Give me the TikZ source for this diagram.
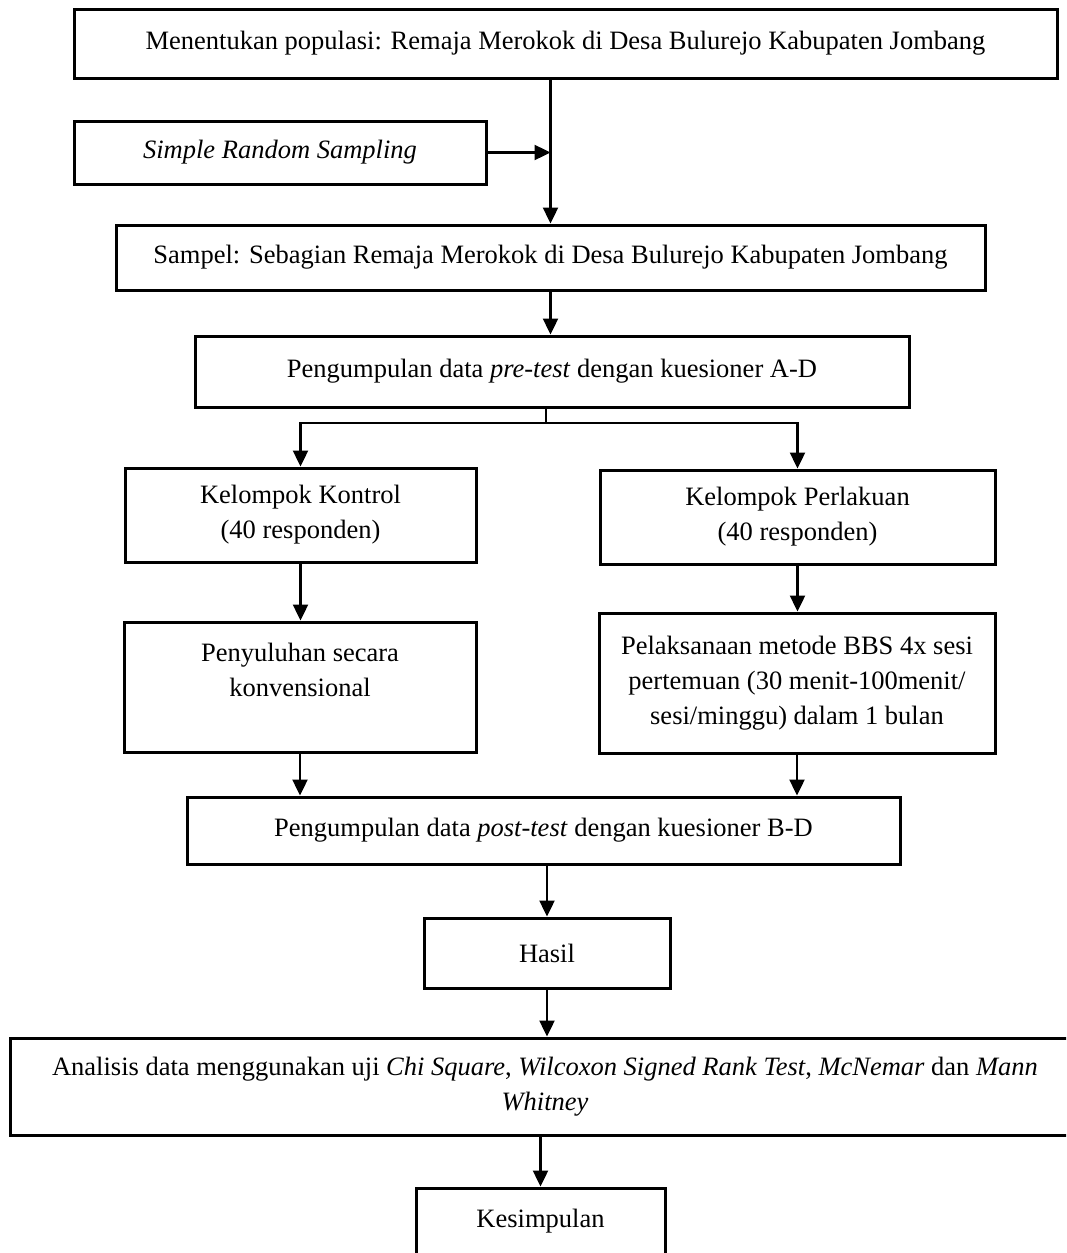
\documentclass[tikz,border=0pt]{standalone}
\usepackage{fontspec}
\setmainfont{Liberation Serif}
\usetikzlibrary{arrows.meta}
\begin{document}
\begin{tikzpicture}[x=1pt,y=-1pt,
  flowbox/.style={draw, line width=3pt, inner sep=0pt, align=center,
    font=\fontsize{26.5}{35}\selectfont},
  link/.style={line width=2.4pt, -{Triangle[length=16pt,width=15pt]}},
  plain/.style={line width=2.4pt}]
\useasboundingbox (0,0) rectangle (1066,1253);
\clip (0,0) rectangle (1066,1253);
\fill[white] (0,0) rectangle (1066,1253);

% boxes of the flow
\node[flowbox, minimum width=983, minimum height=69] (pop) at (565.5,43.5)
  {Menentukan populasi: Remaja Merokok di Desa Bulurejo Kabupaten Jombang};
\node[flowbox, minimum width=412, minimum height=63] (srs) at (280,152.5)
  {\textit{Simple Random Sampling}};
\node[flowbox, minimum width=869, minimum height=65] (smp) at (550.5,257.5)
  {Sampel: Sebagian Remaja Merokok di Desa Bulurejo Kabupaten Jombang};
\node[flowbox, minimum width=714, minimum height=71] (pre) at (552,371.5)
  {Pengumpulan data \textit{pre-test} dengan kuesioner A-D};
\node[flowbox, minimum width=351, minimum height=94] (kon) at (300.5,515)
  {Kelompok Kontrol\\(40 responden)};
\node[flowbox, minimum width=395, minimum height=94] (per) at (797.5,517)
  {Kelompok Perlakuan\\(40 responden)};
\node[flowbox, minimum width=352, minimum height=130] (pny) at (300,687)
  {Penyuluhan secara\\konvensional\\\mbox{}};
\node[flowbox, minimum width=396, minimum height=140] (pel) at (797,683)
  {Pelaksanaan metode BBS 4x sesi\\pertemuan (30 menit-100menit/\\sesi/minggu) dalam 1 bulan};
\node[flowbox, minimum width=713, minimum height=67] (post) at (543.5,830.5)
  {Pengumpulan data \textit{post-test} dengan kuesioner B-D};
\node[flowbox, minimum width=246, minimum height=70] (has) at (547,953)
  {Hasil};
\node[flowbox, minimum width=1070, minimum height=97] (ana) at (545,1086.5)
  {Analisis data menggunakan uji \textit{Chi Square}, \textit{Wilcoxon Signed Rank Test}, \textit{McNemar} dan \textit{Mann}\\\textit{Whitney}};
\node[flowbox, minimum width=249, minimum height=95] (kes) at (540.5,1235.5)
  {Kesimpulan\\\mbox{}};

% connectors
\draw[link] (pop.south -| smp.north) -- (smp.north);
\draw[link] (srs.east) -- (srs.east -| smp.north);
\draw[link] (smp.south) -- (smp.south |- pre.north);
\coordinate (split) at (546,423);
\draw[plain] (pre.south -| split) -- (split);
\draw[link] (split) -| (kon.north);
\draw[link] (split) -| (per.north);
\draw[link] (kon.south) -- (kon.south |- pny.north);
\draw[link] (per.south) -- (per.south |- pel.north);
\draw[link] (pny.south) -- (pny.south |- post.north);
\draw[link] (pel.south) -- (pel.south |- post.north);
\draw[link] (has.north |- post.south) -- (has.north);
\draw[link] (has.south) -- (has.south |- ana.north);
\draw[link] (kes.north |- ana.south) -- (kes.north);
\end{tikzpicture}
\end{document}
